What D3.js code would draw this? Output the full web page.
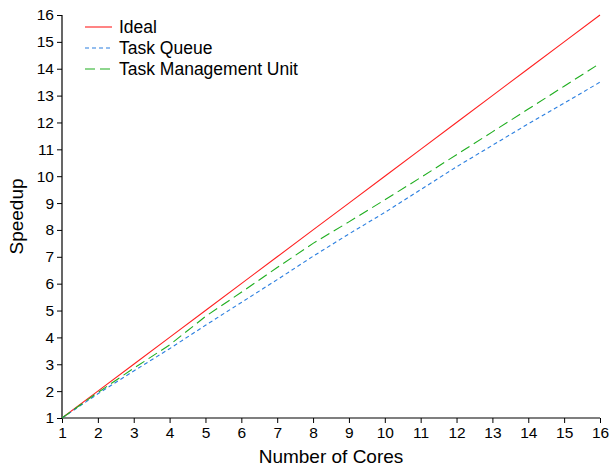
<!DOCTYPE html>
<html>
<head>
<meta charset="utf-8">
<script src="https://cdn.jsdelivr.net/npm/d3@7"></script>
<style>
  body { margin: 0; background: #fff; }
  svg { font-family: "Liberation Sans", Arial, sans-serif; }
</style>
</head>
<body>
<svg id="chart" width="610" height="466"></svg>
<script>
// data
const cores = [1, 2, 3, 4, 5, 6, 7, 8, 9, 10, 11, 12, 13, 14, 15, 16]
const ideal = [1, 2, 3, 4, 5, 6, 7, 8, 9, 10, 11, 12, 13, 14, 15, 16]
const taskQueue = [1, 1.9, 2.75, 3.58, 4.45, 5.3, 6.15, 7.02, 7.85, 8.65, 9.5, 10.35, 11.15, 11.95, 12.72, 13.5]
const tmu = [1, 1.95, 2.85, 3.72, 4.78, 5.68, 6.6, 7.5, 8.3, 9.12, 9.95, 10.8, 11.65, 12.5, 13.35, 14.2]
const yTicks = d3.range(1, 17)

const series = [
    {name: 'Ideal', values: ideal, color: '#ff2020', dash: null},
    {name: 'Task Queue', values: taskQueue, color: '#2b7fe0', dash: '4,3'},
    {name: 'Task Management Unit', values: tmu, color: '#1fae1f', dash: '10,5'}
]

const svg = d3.select('#chart')
const mLeft = 62, mRight = 600, mTop = 15, mBottom = 418

const x = d3.scaleLinear().domain([1, 16]).range([mLeft, mRight])
const y = d3.scaleLinear().domain([1, 16]).range([mBottom, mTop])

//Axes
const xAxis = svg.append('g')
    .attr('transform', `translate(0,${mBottom})`)
    .call(d3.axisBottom(x).tickValues(cores).tickSize(5).tickPadding(4).tickFormat(d3.format('d')))
const yAxis = svg.append('g')
    .attr('transform', `translate(${mLeft},0)`)
    .call(d3.axisLeft(y).tickValues(yTicks).tickSize(5).tickPadding(3).tickFormat(d3.format('d')))

;[xAxis, yAxis].forEach(a => {
    a.select('.domain').attr('stroke', '#000').attr('stroke-width', 1.2)
    a.selectAll('.tick line').attr('stroke', '#000')
    a.selectAll('.tick text').attr('fill', '#000').style('font-size', '15.5px')
        .style('font-family', '"Liberation Sans", Arial, sans-serif')
})
xAxis.select('.domain').attr('d', `M${mLeft},0H${mRight}`)
yAxis.select('.domain').attr('d', `M0,${mBottom}V${mTop}`)

//Axis labels
svg.append('text')
    .attr('x', 331).attr('y', 463)
    .attr('text-anchor', 'middle')
    .style('font-size', '19px')
    .text('Number of Cores')
svg.append('text')
    .attr('transform', `translate(23,${(mTop + mBottom) / 2}) rotate(-90)`)
    .attr('text-anchor', 'middle')
    .style('font-size', '19px')
    .text('Speedup')

//Lines
const line = d3.line().x((d, i) => x(cores[i])).y(d => y(d))
series.forEach(s => {
    svg.append('path')
        .datum(s.values)
        .attr('fill', 'none')
        .attr('stroke', s.color)
        .attr('stroke-width', 1.1)
        .attr('stroke-dasharray', s.dash)
        .attr('d', line)
})

//Legend
const legend = svg.append('g')
series.forEach((s, i) => {
    const ly = 27 + i * 21
    legend.append('line')
        .attr('x1', 85).attr('x2', 112)
        .attr('y1', ly).attr('y2', ly)
        .attr('stroke', s.color)
        .attr('stroke-width', 1.1)
        .attr('stroke-dasharray', s.dash)
    legend.append('text')
        .attr('x', 119).attr('y', ly)
        .attr('dy', '0.35em')
        .style('font-size', '17.5px')
        .text(s.name)
})
</script>
</body>
</html>
